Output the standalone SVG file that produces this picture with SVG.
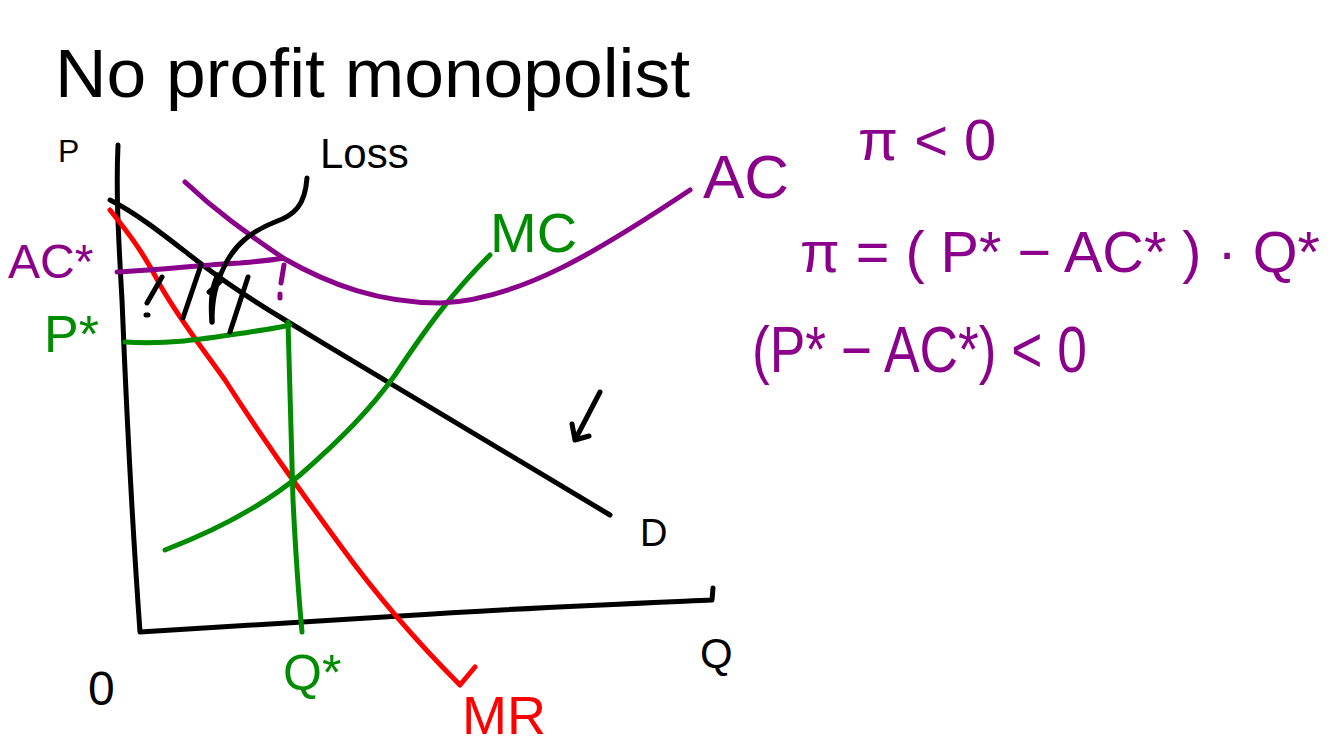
<svg xmlns="http://www.w3.org/2000/svg" width="1338" height="746" viewBox="0 0 1338 746">
<style>
.s{fill:none;stroke-width:5;stroke-linecap:round;stroke-linejoin:round}
.k{stroke:#000}.r{stroke:#ff0000}.g{stroke:#008c00}.p{stroke:#8b008b}
.t{font-family:"Liberation Sans",Arial,sans-serif}
.tk{fill:#000}.tr{fill:#ff0000}.tg{fill:#008c00}.tp{fill:#8b008b}
</style>
<rect width="1338" height="746" fill="#fff"/>
<text class="t tk" x="55" y="97" font-size="68" textLength="635" lengthAdjust="spacingAndGlyphs">No profit monopolist</text>
<g id="axes">
<path class="s k" d="M118,145 C116,190 118,230 122,300 C126,400 132,520 140,632 L400,616 C520,608 620,604 712,600 L713,588"/>
</g>
<g id="curves">
<path id="demand" class="s k" d="M110,200 C140,215 170,240 200,263 S260,305 285,320 C400,390 520,460 610,515"/>
<path id="mr" class="s r" d="M110,210 C130,235 145,255 160,285 C180,320 200,345 225,380 C270,450 300,490 340,545 C380,600 420,645 460,685 L475,667"/>
<path id="mc" class="s g" d="M165,550 C230,525 270,500 300,475 C340,440 370,410 395,375 C425,330 450,295 490,255"/>
<path id="ac" class="s p" d="M185,182 C220,215 250,235 283,258 C330,285 380,303 440,303 C520,300 600,250 690,190"/>
<path id="acstar" class="s p" d="M117,272 C160,270 200,265 240,263 C260,261 275,260 283,258"/>
<path class="s p" d="M284,265 L281,283 M280,294 L280,298"/>
<path id="pstar" class="s g" d="M125,342 C170,345 210,338 250,332 C270,329 282,327 290,325"/>
<path id="qstar" class="s g" d="M288,322 C290,400 292,460 293,500 C296,560 299,600 302,632"/>
</g>
<g id="loss">
<path class="s k" d="M147,303 L162,277 M146,315 L148,315 M183,318 L201,265 M212,322 C210,300 212,285 218,275 M209,292 L222,280 M230,332 L248,277"/>
<path class="s k" d="M307,178 C305,205 295,215 275,222 C250,232 235,245 225,265 C215,285 212,300 212,322"/>
<text class="t tk" x="320" y="168" font-size="42">Loss</text>
</g>
<g id="arrow">
<path class="s k" d="M600,392 L575,440 M575,440 L572,424 M575,440 L589,436"/>
</g>
<g id="labels">
<text class="t tk" x="58" y="162" font-size="32">P</text>
<text class="t tk" x="88" y="705" font-size="48">0</text>
<text class="t tk" x="700" y="668" font-size="42">Q</text>
<text class="t tk" x="640" y="546" font-size="38">D</text>
<text class="t tp" x="703" y="198" font-size="62">AC</text>
<text class="t tg" x="490" y="252" font-size="56">MC</text>
<text class="t tr" x="462" y="734" font-size="54">MR</text>
<text class="t tp" x="8" y="278" font-size="48">AC*</text>
<text class="t tg" x="44" y="352" font-size="52">P*</text>
<text class="t tg" x="283" y="690" font-size="50">Q*</text>
</g>
<g id="equations">
<text class="t tp" x="858" y="160" font-size="58">π &lt; 0</text>
<text class="t tp" x="800" y="272" font-size="58" textLength="520" lengthAdjust="spacingAndGlyphs">π = ( P* − AC* ) · Q*</text>
<text class="t tp" x="752" y="372" font-size="64" textLength="335" lengthAdjust="spacingAndGlyphs">(P* − AC*) &lt; 0</text>
</g>
</svg>
